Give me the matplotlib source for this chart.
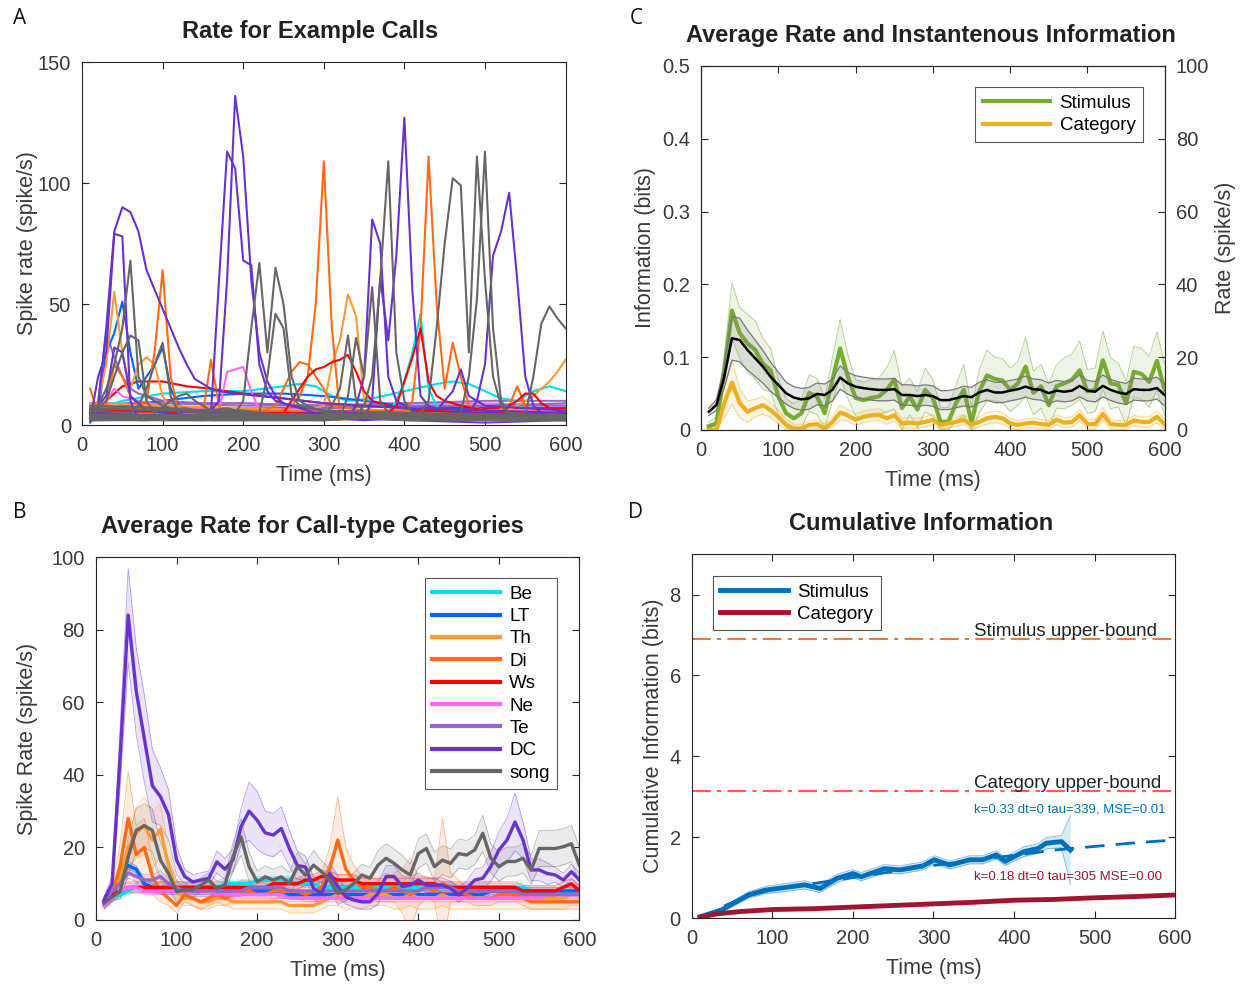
import numpy as np
import matplotlib.pyplot as plt

plt.rcParams['font.family'] = ['Liberation Sans', 'DejaVu Sans']
plt.rcParams['axes.linewidth'] = 0.8

AXC = '#262626'
TXC = '#3a3a3a'

# ---------------- data ----------------
t = np.arange(10, 601, 10)

cat_names = ['Be', 'LT', 'Th', 'Di', 'Ws', 'Ne', 'Te', 'DC', 'song']
cat_colors = ['#00E1F0', '#0066FF', '#FF9933', '#FF6A13', '#FF0000',
              '#FF66FF', '#9468C8', '#6633CC', '#666666']
C = dict(zip(cat_names, cat_colors))

# Panel A: example call traces, (time ms, rate) pairs
dc1 = [(10, 3), (20, 8), (30, 40), (40, 80), (50, 90), (60, 88), (70, 80), (80, 64), (90, 56), (100, 48),
       (110, 40), (120, 32), (130, 25), (140, 19), (150, 17), (160, 15), (170, 14), (190, 13), (220, 12),
       (250, 11), (300, 9), (350, 8), (400, 7), (500, 6), (600, 5)]
dc2 = [(10, 2), (20, 20), (30, 30), (40, 79), (50, 78), (60, 10), (70, 2), (80, 2), (100, 3), (120, 5),
       (140, 6), (160, 6), (200, 5), (250, 4), (300, 3), (350, 2), (400, 3), (450, 2), (500, 3), (600, 3)]
dc3 = [(10, 4), (30, 12), (40, 32), (50, 30), (60, 12), (80, 6), (150, 3), (160, 5), (170, 60), (180, 113),
       (190, 106), (200, 68), (210, 66), (220, 25), (230, 14), (240, 10), (260, 8), (300, 6), (350, 5),
       (400, 5), (450, 4), (500, 5), (600, 4)]
dc4 = [(10, 2), (50, 3), (150, 2), (170, 10), (180, 60), (190, 136), (200, 111), (210, 60), (220, 30),
       (230, 18), (240, 12), (250, 9), (280, 6), (300, 4), (350, 3), (400, 4), (500, 3), (600, 3)]
dc5 = [(10, 3), (100, 4), (200, 3), (300, 2), (330, 3), (340, 8), (350, 20), (360, 85), (370, 75),
       (380, 20), (390, 10), (400, 8), (410, 6), (420, 5), (450, 4), (500, 4), (600, 3)]
dc6 = [(10, 5), (100, 6), (200, 5), (300, 3), (350, 3), (360, 10), (370, 61), (380, 35), (390, 70),
       (400, 127), (410, 55), (420, 12), (430, 8), (440, 6), (450, 10), (460, 14), (470, 23), (480, 12),
       (500, 8), (600, 6)]
dc7 = [(10, 4), (200, 4), (300, 5), (400, 4), (480, 5), (490, 10), (500, 25), (510, 70), (520, 80),
       (530, 96), (540, 60), (550, 20), (560, 8), (570, 5), (580, 4), (600, 3)]
song1 = [(10, 5), (20, 8), (30, 15), (40, 25), (50, 40), (60, 68), (70, 20), (80, 12), (90, 10), (100, 8),
         (120, 6), (150, 5), (200, 4), (250, 3), (300, 2), (350, 3), (400, 2), (600, 2)]
song2 = [(10, 3), (30, 10), (40, 20), (50, 30), (60, 37), (70, 35), (80, 10), (90, 5), (110, 10),
         (120, 12), (130, 13), (140, 10), (160, 6), (200, 5), (300, 4), (400, 3), (600, 3)]
song3 = [(10, 6), (60, 5), (70, 8), (80, 15), (90, 25), (100, 34), (110, 12), (120, 5), (130, 3), (140, 4),
         (160, 6), (180, 7), (200, 5), (300, 4), (400, 4), (600, 3)]
song4 = [(10, 4), (180, 3), (190, 5), (200, 10), (210, 40), (220, 67), (230, 30), (240, 65), (250, 50),
         (260, 20), (270, 10), (280, 8), (300, 5), (350, 4), (400, 3), (600, 3)]
song5 = [(10, 7), (100, 6), (200, 6), (220, 5), (230, 20), (240, 46), (250, 40), (260, 12), (270, 8),
         (300, 6), (400, 5), (600, 4)]
song6 = [(10, 2), (300, 2), (340, 3), (350, 8), (360, 20), (370, 60), (380, 109), (390, 30), (400, 10),
         (410, 5), (420, 4), (500, 3), (600, 2)]
song7 = [(10, 3), (300, 3), (320, 3), (330, 12), (340, 36), (350, 20), (360, 57), (370, 10), (380, 5),
         (450, 4), (600, 3)]
song8 = [(10, 2), (400, 3), (420, 5), (430, 10), (440, 40), (450, 75), (460, 102), (470, 99), (480, 30),
         (490, 111), (500, 60), (510, 20), (520, 8), (530, 5), (560, 3), (600, 2)]
song9 = [(10, 3), (450, 4), (470, 5), (480, 20), (490, 52), (500, 113), (510, 40), (520, 10), (530, 5),
         (600, 3)]
song10 = [(10, 4), (500, 4), (540, 3), (550, 4), (560, 20), (570, 42), (580, 49), (590, 44), (600, 40)]
song11 = [(10, 8), (100, 7), (200, 5), (290, 3), (300, 3), (310, 8), (320, 15), (330, 37), (340, 10),
          (350, 5), (400, 4), (600, 4)]
di1 = [(10, 15), (20, 5), (30, 8), (40, 25), (50, 20), (60, 12), (70, 8), (80, 10), (90, 30), (100, 64),
       (110, 20), (120, 5), (130, 3), (150, 3), (160, 2), (200, 2), (300, 2), (400, 3), (500, 2), (600, 2)]
di2 = [(10, 6), (100, 5), (240, 5), (260, 8), (270, 12), (280, 20), (290, 50), (300, 109), (310, 40),
       (320, 5), (330, 3), (400, 3), (500, 3), (600, 2)]
di3 = [(10, 7), (200, 6), (400, 5), (410, 10), (420, 40), (430, 111), (440, 50), (450, 15), (460, 34),
       (470, 20), (480, 8), (500, 6), (600, 5)]
di4 = [(10, 4), (100, 3), (140, 3), (150, 5), (160, 27), (170, 8), (180, 3), (300, 3), (500, 4),
       (530, 8), (540, 16), (550, 8), (570, 5), (600, 4)]
di5 = [(10, 6), (100, 5), (200, 5), (220, 5), (240, 8), (250, 15), (260, 22), (270, 26), (280, 25),
       (290, 20), (300, 15), (310, 8), (350, 6), (400, 6), (600, 5)]
th1 = [(10, 3), (20, 10), (30, 25), (40, 55), (50, 30), (60, 15), (70, 25), (80, 28), (90, 25), (100, 12),
       (110, 6), (150, 5), (200, 5), (300, 4), (400, 4), (600, 3)]
th2 = [(10, 9), (100, 8), (200, 7), (280, 6), (300, 8), (310, 25), (320, 35), (330, 54), (340, 45),
       (350, 10), (360, 6), (400, 5), (600, 5)]
th3 = [(10, 2), (200, 3), (400, 3), (520, 5), (540, 8), (560, 12), (570, 15), (580, 18), (590, 22),
       (600, 27)]
lt1 = [(10, 1), (20, 5), (30, 30), (40, 38), (50, 51), (60, 30), (70, 15), (80, 20), (90, 25), (100, 32),
       (110, 15), (120, 8), (140, 6), (200, 5), (300, 4), (400, 4), (500, 3), (600, 3)]
lt2 = [(10, 5), (50, 8), (100, 10), (150, 12), (200, 13), (250, 13), (300, 12), (350, 10), (400, 8),
       (450, 7), (500, 6), (600, 5)]
be1 = [(10, 3), (200, 4), (380, 5), (390, 10), (400, 18), (410, 30), (420, 46), (430, 15), (440, 8),
       (450, 5), (600, 4)]
be2 = [(10, 6), (50, 10), (100, 13), (150, 14), (200, 14), (250, 16), (270, 17), (290, 16), (310, 12),
       (330, 10), (360, 11), (400, 14), (440, 17), (460, 18), (480, 17), (500, 14), (520, 11), (540, 10),
       (560, 14), (580, 16), (600, 14)]
ws1 = [(10, 5), (30, 10), (50, 16), (70, 18), (100, 18), (130, 16), (160, 15), (200, 13), (250, 11),
       (300, 9), (350, 8), (400, 7), (450, 6), (500, 5), (600, 4)]
ws2 = [(10, 4), (100, 3), (240, 3), (250, 5), (260, 10), (270, 15), (280, 20), (290, 23), (300, 24),
       (310, 26), (320, 27), (330, 29), (340, 22), (350, 14), (360, 10), (380, 8), (400, 7), (420, 6),
       (500, 5), (600, 4)]
ws3 = [(10, 6), (200, 5), (380, 5), (390, 8), (400, 18), (410, 28), (420, 40), (430, 18), (440, 12),
       (450, 10), (470, 8), (500, 6), (520, 5), (530, 8), (540, 10), (550, 13), (560, 13), (570, 9),
       (580, 7), (600, 5)]
ne1 = [(10, 3), (150, 3), (160, 4), (170, 6), (180, 22), (190, 23), (200, 24), (210, 14), (220, 6),
       (230, 4), (300, 4), (400, 3), (600, 3)]
ne2 = [(10, 5), (30, 10), (40, 15), (50, 12), (70, 10), (100, 8), (150, 7), (200, 7), (300, 6),
       (400, 6), (500, 6), (600, 6)]
te1 = [(10, 5), (20, 10), (30, 38), (40, 28), (50, 20), (60, 15), (70, 13), (100, 10), (150, 9),
       (200, 9), (300, 8), (400, 8), (500, 8), (600, 8)]

# low background traces sampled every 100 ms
bg_t = [10, 100, 200, 300, 400, 500, 600]
bg_be = [4, 6, 7, 6, 5, 5, 6]
bg_lt = [2, 3, 4, 5, 5, 6, 6]
bg_di = [7, 8, 6, 5, 6, 7, 7]
bg_ws = [6, 7, 7, 7, 8, 7, 7]
bg_ne = [4, 5, 6, 5, 4, 4, 5]
bg_ne2 = [8, 9, 9, 8, 9, 9, 8]
bg_te = [6, 7, 7, 7, 8, 8, 9]
bg_te2 = [9, 9, 8, 8, 9, 10, 10]
bg_dc = [3, 2, 2, 3, 2, 1, 2]
bg_song = [5, 4, 4, 3, 4, 3, 3]

# Panel B: average rate per call-type category
rate_be = [5, 6, 7, 8, 9, 9, 9, 9, 9, 9,
           9, 9, 9, 9, 9, 10, 10, 10, 10, 11,
           11, 11, 11, 11, 10, 10, 10, 9, 9, 9,
           9, 9, 9, 9, 9, 9, 9, 9, 9, 9,
           9, 9, 9, 9, 9, 9, 9, 9, 9, 9,
           9, 9, 9, 8, 8, 8, 8, 8, 8, 8]
rate_lt = [4, 6, 12, 15, 14, 10, 9, 8, 8, 8,
           8, 8, 8, 8, 8, 8, 8, 8, 8, 8,
           8, 8, 7, 7, 7, 7, 7, 7, 7, 7,
           7, 7, 7, 7, 7, 7, 7, 7, 7, 7,
           7, 7, 7, 7, 7, 7, 7, 7, 8, 8,
           8, 8, 8, 8, 8, 8, 8, 8, 8, 8]
rate_th = [4, 7, 12, 20, 24, 26, 22, 25, 15, 8,
           6, 6, 5, 5, 6, 6, 5, 5, 5, 5,
           5, 5, 5, 4, 4, 4, 4, 5, 6, 7,
           6, 6, 6, 7, 7, 7, 6, 6, 7, 6,
           6, 6, 7, 6, 6, 6, 6, 6, 6, 6,
           6, 6, 6, 6, 6, 6, 6, 6, 7, 7]
rate_di = [5, 7, 15, 28, 18, 20, 12, 8, 6, 4,
           7, 6, 5, 6, 7, 6, 7, 8, 8, 7,
           7, 8, 8, 8, 8, 7, 8, 9, 14, 22,
           14, 11, 9, 9, 8, 8, 9, 8, 7, 8,
           9, 8, 10, 9, 8, 7, 6, 6, 6, 7,
           7, 7, 6, 5, 5, 5, 5, 5, 5, 5]
rate_ws = [5, 7, 8, 9, 9, 9, 9, 9, 9, 9,
           9, 9, 9, 9, 9, 9, 9, 9, 9, 9,
           9, 10, 10, 10, 10, 11, 11, 12, 12, 11,
           11, 11, 10, 10, 10, 10, 10, 10, 10, 10,
           10, 10, 9, 9, 9, 9, 9, 9, 9, 9,
           9, 9, 8, 8, 8, 8, 8, 9, 10, 8]
rate_ne = [4, 6, 8, 9, 9, 8, 8, 8, 8, 8,
           8, 8, 8, 8, 7, 7, 7, 7, 7, 7,
           7, 7, 7, 6, 6, 6, 6, 6, 6, 6,
           6, 6, 6, 6, 6, 6, 6, 6, 6, 6,
           6, 6, 6, 6, 6, 6, 6, 6, 6, 6,
           6, 6, 6, 6, 6, 7, 7, 7, 7, 7]
rate_te = [5, 8, 10, 13, 12, 11, 11, 12, 10, 9,
           8, 8, 8, 8, 8, 8, 8, 8, 9, 9,
           9, 9, 9, 8, 8, 8, 8, 8, 8, 8,
           8, 8, 8, 8, 8, 8, 8, 8, 8, 8,
           9, 9, 9, 9, 8, 8, 8, 8, 8, 8,
           8, 8, 7, 7, 7, 7, 7, 7, 7, 7]
rate_dc = [5.5, 10, 45, 84, 63, 50, 37, 34, 29, 16.5,
           12, 10.5, 11, 11.5, 16, 14, 16.5, 25.7, 30, 27.5,
           24, 23.4, 25.2, 19.7, 15, 14.6, 8.7, 7.3, 12.8, 9.2,
           6.4, 5.5, 5, 5, 7.3, 12, 12, 9.2, 9.6, 11,
           9.6, 9.6, 9.6, 8.7, 6.9, 8.7, 11, 11.5, 14.7, 19.3,
           22, 27, 22, 13.8, 13.8, 12.8, 12.4, 11, 13.3, 11]
rate_song = [4.6, 6.4, 7.8, 17.4, 24.7, 26, 24.7, 16.5, 12.8, 7.8,
             8.3, 8.3, 9.6, 11, 8.7, 9.6, 17.4, 22.9, 14.7, 10.5,
             11.9, 11, 11.9, 10.1, 14.7, 12.4, 15.1, 13.3, 11, 7.3,
             8.3, 10.1, 12.4, 11.5, 15.1, 17, 15.6, 13.8, 12.4, 18.3,
             19.7, 14.7, 16.5, 15.6, 18.3, 17.9, 19.3, 23.9, 17, 14.7,
             16.1, 16.1, 17, 13.8, 19.7, 19.7, 19.7, 20.2, 21, 15]
err_dc = [1, 2, 8, 13, 12, 12, 10, 8, 7, 4,
          2, 2, 2, 2, 3, 3, 3, 5, 8, 8,
          6, 6, 6, 5, 4, 3, 3, 3, 3, 3,
          2, 2, 2, 2, 3, 3, 3, 3, 2, 2,
          2, 2, 2, 2, 2, 2, 3, 3, 4, 5,
          6, 8, 5, 3, 3, 3, 2, 2, 2, 2]
err_song = [1, 1, 2, 5, 6, 6, 6, 5, 4, 3,
            2, 2, 2, 2, 2, 2, 4, 5, 4, 3,
            3, 3, 3, 3, 4, 3, 4, 3, 3, 3,
            3, 3, 3, 3, 4, 4, 4, 4, 3, 4,
            4, 4, 4, 4, 4, 4, 4, 5, 4, 4,
            4, 4, 4, 4, 5, 5, 5, 5, 5, 5]
err_di = [1, 2, 6, 13, 8, 8, 5, 3, 2, 2,
          2, 2, 2, 2, 2, 2, 2, 3, 3, 2,
          2, 2, 2, 2, 2, 2, 3, 4, 6, 12,
          6, 4, 3, 3, 3, 3, 4, 6, 10, 4,
          3, 3, 18, 4, 3, 2, 2, 2, 2, 2,
          2, 2, 2, 2, 2, 2, 2, 2, 2, 2]
err_th = [1, 2, 4, 6, 7, 8, 8, 7, 5, 3,
          2, 2, 2, 2, 2, 2, 2, 2, 2, 2,
          2, 2, 2, 2, 2, 2, 2, 2, 2, 3,
          3, 3, 3, 3, 3, 3, 3, 3, 3, 3,
          3, 3, 3, 3, 3, 3, 3, 3, 3, 3,
          3, 3, 3, 3, 3, 3, 3, 3, 3, 3]
err_small = {'Be': 1.0, 'LT': 1.0, 'Ws': 1.5, 'Ne': 1.0, 'Te': 1.5}

# Panel C: instantaneous information and mean rate
info_stim = [0.005, 0.009, 0.082, 0.164, 0.133, 0.119, 0.110, 0.091, 0.082, 0.046,
             0.023, 0.016, 0.023, 0.051, 0.046, 0.023, 0.069, 0.112, 0.073, 0.044,
             0.041, 0.044, 0.046, 0.055, 0.069, 0.030, 0.046, 0.028, 0.055, 0.044,
             0.011, 0.011, 0.037, 0.055, 0.011, 0.053, 0.075, 0.070, 0.068, 0.055,
             0.064, 0.087, 0.051, 0.060, 0.034, 0.060, 0.064, 0.069, 0.082, 0.053,
             0.055, 0.096, 0.064, 0.062, 0.037, 0.080, 0.077, 0.066, 0.095, 0.055]
info_stim_err = [0.005, 0.01, 0.02, 0.038, 0.035, 0.04, 0.04, 0.035, 0.03, 0.025,
                 0.02, 0.02, 0.02, 0.025, 0.025, 0.02, 0.03, 0.04, 0.03, 0.025,
                 0.025, 0.025, 0.025, 0.03, 0.04, 0.03, 0.025, 0.025, 0.03, 0.025,
                 0.02, 0.02, 0.025, 0.035, 0.02, 0.03, 0.035, 0.03, 0.03, 0.03,
                 0.03, 0.04, 0.03, 0.03, 0.03, 0.03, 0.035, 0.035, 0.04, 0.03,
                 0.03, 0.04, 0.035, 0.03, 0.03, 0.035, 0.035, 0.035, 0.04, 0.035]
info_cat = [0.0, 0.0, 0.037, 0.065, 0.037, 0.025, 0.030, 0.034, 0.027, 0.018,
            0.007, 0.002, 0.002, 0.007, 0.008, 0.002, 0.011, 0.024, 0.020, 0.014,
            0.018, 0.020, 0.021, 0.016, 0.020, 0.009, 0.010, 0.009, 0.011, 0.014,
            0.007, 0.009, 0.011, 0.014, 0.007, 0.011, 0.016, 0.018, 0.016, 0.009,
            0.007, 0.009, 0.010, 0.008, 0.007, 0.014, 0.010, 0.011, 0.020, 0.008,
            0.008, 0.022, 0.008, 0.007, 0.007, 0.013, 0.011, 0.011, 0.018, 0.008]
info_cat_err = [0.003, 0.005, 0.02, 0.03, 0.02, 0.015, 0.012, 0.012, 0.01, 0.01,
                0.008, 0.006, 0.006, 0.006, 0.006, 0.006, 0.007, 0.01, 0.008, 0.008,
                0.008, 0.008, 0.008, 0.008, 0.008, 0.007, 0.007, 0.007, 0.007, 0.007,
                0.006, 0.006, 0.006, 0.007, 0.006, 0.007, 0.008, 0.008, 0.008, 0.007,
                0.006, 0.006, 0.007, 0.006, 0.006, 0.007, 0.007, 0.007, 0.008, 0.007,
                0.007, 0.009, 0.007, 0.006, 0.006, 0.007, 0.007, 0.007, 0.008, 0.007]
rate_mean = [5.0, 6.9, 14.6, 25.2, 24.7, 22.0, 19.7, 17.4, 14.6, 12.4,
             10.1, 8.9, 8.4, 8.7, 9.9, 9.6, 11.0, 14.4, 12.8, 11.9,
             11.5, 11.2, 11.0, 11.0, 11.2, 9.6, 9.6, 9.3, 9.6, 9.3,
             8.2, 8.2, 8.7, 9.3, 9.0, 10.3, 11.0, 10.3, 10.3, 10.8,
             11.2, 11.9, 11.2, 11.0, 10.1, 10.8, 10.5, 10.8, 12.1, 10.8,
             10.5, 12.1, 11.0, 10.3, 9.9, 11.2, 11.0, 11.0, 11.5, 9.6]
rate_err = [1.0, 1.5, 3.0, 6.0, 6.0, 5.5, 5.0, 4.5, 4.0, 3.5,
            3.0, 3.0, 3.0, 3.0, 3.0, 3.0, 3.0, 3.2, 3.0, 3.0,
            3.0, 3.0, 3.0, 3.0, 3.0, 2.8, 2.8, 2.8, 2.8, 2.8,
            2.6, 2.6, 2.6, 2.7, 2.7, 2.8, 2.8, 2.8, 2.8, 2.8,
            2.8, 2.9, 2.8, 2.8, 2.8, 2.8, 2.8, 2.8, 3.0, 2.8,
            2.8, 3.0, 2.9, 2.9, 2.9, 3.0, 3.0, 3.0, 3.0, 3.0]

# Panel D: cumulative information
cum_stim_t = [10, 37, 70, 91, 118, 140, 159, 180, 200, 210, 239, 258, 287, 301, 320,
              345, 361, 378, 389, 412, 430, 440, 459, 470]
cum_stim = [0.03, 0.2, 0.57, 0.69, 0.76, 0.82, 0.73, 0.98, 1.1, 1.02, 1.22, 1.19, 1.29,
            1.44, 1.31, 1.44, 1.44, 1.56, 1.4, 1.64, 1.72, 1.85, 1.89, 1.68]
cum_stim_err = [0.03, 0.05, 0.08, 0.09, 0.1, 0.1, 0.1, 0.1, 0.1, 0.1, 0.1, 0.1, 0.1,
                0.1, 0.1, 0.1, 0.1, 0.1, 0.1, 0.12, 0.12, 0.14, 0.15, 0.85]
cum_cat_t = [10, 30, 60, 100, 150, 200, 250, 300, 350, 400, 450, 500, 550, 600]
cum_cat = [0.02, 0.1, 0.16, 0.21, 0.23, 0.27, 0.31, 0.35, 0.39, 0.44, 0.46, 0.5, 0.53, 0.57]
fit_t = [40, 70, 100, 150, 200, 250, 300, 350, 400, 450, 500, 550, 600]
fit_stim = [0.3, 0.55, 0.7, 0.85, 1.0, 1.15, 1.3, 1.43, 1.55, 1.68, 1.77, 1.86, 1.93]
stim_bound = 6.9
cat_bound = 3.15

# ---------------- figure ----------------
fig = plt.figure(figsize=(12.43, 9.85), dpi=100)

TICK_FS = 14.5


def matlab_axes(ax):
    ax.tick_params(direction='in', top=True, right=True, length=5, width=0.8,
                   labelsize=TICK_FS, colors=AXC, labelcolor=TXC, pad=8)
    for s in ax.spines.values():
        s.set_color(AXC)


lab_kw = dict(fontsize=15.5, color=TXC)
title_kw = dict(fontsize=17, fontweight='bold', color='#222222', pad=17)
leg_kw = dict(fontsize=13.5, handlelength=3.6, handletextpad=0.5, labelspacing=0.28,
              borderpad=0.4, borderaxespad=0, fancybox=False, framealpha=1,
              edgecolor='#555555')

# ---- A ----
axA = fig.add_axes([0.066, 0.5685, 0.389, 0.3685])
for vals, col in [(bg_be, C['Be']), (bg_lt, C['LT']), (bg_di, C['Di']), (bg_ws, C['Ws']),
                  (bg_ne, C['Ne']), (bg_ne2, C['Ne']), (bg_te, C['Te']), (bg_te2, C['Te']),
                  (bg_dc, C['DC']), (bg_song, C['song'])]:
    axA.plot(bg_t, vals, color=col, lw=1.4)
traces_a = [(be2, 'Be'), (lt2, 'LT'), (ws1, 'Ws'), (ne2, 'Ne'), (te1, 'Te'), (ne1, 'Ne'),
            (be1, 'Be'), (lt1, 'LT'), (th1, 'Th'), (th2, 'Th'), (th3, 'Th'), (di1, 'Di'),
            (di2, 'Di'), (di3, 'Di'), (di4, 'Di'), (di5, 'Di'), (ws2, 'Ws'), (ws3, 'Ws'),
            (dc1, 'DC'), (dc2, 'DC'), (dc3, 'DC'), (dc4, 'DC'), (dc5, 'DC'), (dc6, 'DC'),
            (dc7, 'DC'), (song1, 'song'), (song2, 'song'), (song3, 'song'), (song4, 'song'),
            (song5, 'song'), (song6, 'song'), (song7, 'song'), (song8, 'song'),
            (song9, 'song'), (song10, 'song'), (song11, 'song')]
for tr, cat in traces_a:
    xs, ys = zip(*tr)
    axA.plot(xs, ys, color=C[cat], lw=1.5)
axA.set_xlim(0, 600)
axA.set_ylim(0, 150)
axA.set_xticks(range(0, 601, 100))
axA.set_yticks([0, 50, 100, 150])
matlab_axes(axA)
axA.set_xlabel('Time (ms)', labelpad=7, **lab_kw)
axA.set_ylabel('Spike rate (spike/s)', labelpad=0, **lab_kw)
axA.set_title('Rate for Example Calls', x=0.472, **title_kw)

# ---- B ----
axB = fig.add_axes([0.0772, 0.066, 0.389, 0.3685])
rates_b = [rate_be, rate_lt, rate_th, rate_di, rate_ws, rate_ne, rate_te, rate_dc, rate_song]
errs_b = {'Th': err_th, 'Di': err_di, 'DC': err_dc, 'song': err_song}
for name, col, r in zip(cat_names, cat_colors, rates_b):
    r = np.array(r, dtype=float)
    e = np.array(errs_b[name], dtype=float) if name in errs_b else err_small[name]
    axB.fill_between(t, r - e, r + e, color=col, alpha=0.13, lw=0)
    axB.plot(t, r + e, color=col, lw=0.6, alpha=0.45)
    axB.plot(t, r - e, color=col, lw=0.6, alpha=0.45)
for name, col, r in zip(cat_names, cat_colors, rates_b):
    axB.plot(t, r, color=col, lw=2.4, label=name)
axB.set_xlim(0, 600)
axB.set_ylim(0, 100)
axB.set_xticks(range(0, 601, 100))
axB.set_yticks(range(0, 101, 20))
matlab_axes(axB)
axB.set_xlabel('Time (ms)', labelpad=7, **lab_kw)
axB.set_ylabel('Spike Rate (spike/s)', labelpad=10, **lab_kw)
axB.set_title('Average Rate for Call-type Categories', x=0.448, **title_kw)
lg = axB.legend(loc='upper right', bbox_to_anchor=(0.954, 0.942), **leg_kw)
lg.get_frame().set_linewidth(0.8)
for ln in lg.get_lines():
    ln.set_linewidth(3)

# ---- C ----
axC = fig.add_axes([0.564, 0.5635, 0.373, 0.3695])
axC2 = axC.twinx()
green, yellow = '#77AC30', '#EDB120'
s = np.array(info_stim)
se = np.array(info_stim_err)
ca = np.array(info_cat)
ce = np.array(info_cat_err)
axC.fill_between(t, np.clip(s - se, 0, None), s + se, color=green, alpha=0.12, lw=0)
axC.plot(t, s + se, color=green, lw=0.7, alpha=0.5)
axC.plot(t, np.clip(s - se, 0, None), color=green, lw=0.7, alpha=0.5)
axC.fill_between(t, np.clip(ca - ce, 0, None), ca + ce, color=yellow, alpha=0.12, lw=0)
axC.plot(t, ca + ce, color=yellow, lw=0.7, alpha=0.5)
axC.plot(t, np.clip(ca - ce, 0, None), color=yellow, lw=0.7, alpha=0.5)
axC.plot(t, s, color=green, lw=3, label='Stimulus', zorder=3)
axC.plot(t, ca, color=yellow, lw=3, label='Category', zorder=3)
rm = np.array(rate_mean)
rerr = np.array(rate_err)
axC2.fill_between(t, rm - rerr, rm + rerr, color='#888888', alpha=0.2, lw=0)
axC2.plot(t, rm + rerr, color='#777777', lw=0.9)
axC2.plot(t, rm - rerr, color='#777777', lw=0.9)
axC2.plot(t, rm, color='black', lw=1.8)
axC.set_xlim(0, 600)
axC.set_ylim(0, 0.5)
axC2.set_ylim(0, 100)
axC.set_xticks(range(0, 601, 100))
axC.set_yticks([0, 0.1, 0.2, 0.3, 0.4, 0.5])
axC.set_yticklabels(['0', '0.1', '0.2', '0.3', '0.4', '0.5'])
axC2.set_yticks(range(0, 101, 20))
axC.tick_params(direction='in', top=True, right=False, length=5, width=0.8,
                labelsize=TICK_FS, colors=AXC, labelcolor=TXC, pad=8)
axC2.tick_params(direction='in', length=5, width=0.8, labelsize=TICK_FS,
                 colors=AXC, labelcolor=TXC, pad=8)
for a in (axC, axC2):
    for sp in a.spines.values():
        sp.set_color(AXC)
axC.set_xlabel('Time (ms)', labelpad=7, **lab_kw)
axC.set_ylabel('Information (bits)', **lab_kw)
axC2.set_ylabel('Rate (spike/s)', **lab_kw)
axC.set_title('Average Rate and Instantenous Information', x=0.496, **title_kw)
lgC = axC.legend(loc='upper right', bbox_to_anchor=(0.953, 0.942), **leg_kw)
lgC.get_frame().set_linewidth(0.8)

# ---- D ----
axD = fig.add_axes([0.5567, 0.068, 0.3886, 0.3695])
blue, dred = '#0072BD', '#A2142F'
cs = np.array(cum_stim)
cse = np.array(cum_stim_err)
axD.axhline(stim_bound, color='#D9804A', lw=1.5, ls=(0, (9, 3, 2, 3)))
axD.axhline(cat_bound, color='#FF5A5A', lw=1.5, ls=(0, (9, 3, 2, 3)))
axD.fill_between(cum_stim_t, cs - cse, cs + cse, color=blue, alpha=0.15, lw=0)
axD.plot(cum_stim_t, cs + cse, color=blue, lw=0.7, alpha=0.45)
axD.plot(cum_stim_t, cs - cse, color=blue, lw=0.7, alpha=0.45)
axD.plot(cum_stim_t, cs, color=blue, lw=3.5, label='Stimulus')
axD.plot(fit_t, fit_stim, color=blue, lw=2, ls=(0, (7, 4)))
axD.plot(cum_cat_t, cum_cat, color=dred, lw=3.5, label='Category')
axD.text(350, stim_bound + 0.07, 'Stimulus upper-bound', fontsize=13.5, color='#222222')
axD.text(350, cat_bound + 0.07, 'Category upper-bound', fontsize=13.5, color='#222222')
axD.text(350, 2.6, 'k=0.33 dt=0 tau=339, MSE=0.01', fontsize=9.5, color=blue)
axD.text(350, 0.93, 'k=0.18 dt=0 tau=305 MSE=0.00', fontsize=9.5, color=dred)
axD.set_xlim(0, 600)
axD.set_ylim(0, 9)
axD.set_xticks(range(0, 601, 100))
axD.set_yticks([0, 2, 4, 6, 8])
matlab_axes(axD)
axD.set_xlabel('Time (ms)', labelpad=7, **lab_kw)
axD.set_ylabel('Cumulative Information (bits)', **lab_kw)
axD.set_title('Cumulative Information', x=0.474, **title_kw)
lgD = axD.legend(loc='upper left', bbox_to_anchor=(0.0435, 0.94), **leg_kw)
lgD.get_frame().set_linewidth(0.8)

# panel letters
for lab, x, y in [('A', 20, 18), ('B', 20, 512), ('C', 636, 18), ('D', 636, 512)]:
    fig.text(x / 1243, 1 - y / 985, lab, fontsize=15, ha='center', va='center',
             color='#111111', family=['Open Sans', 'DejaVu Sans'])

fig.savefig('out.png', dpi=100)
